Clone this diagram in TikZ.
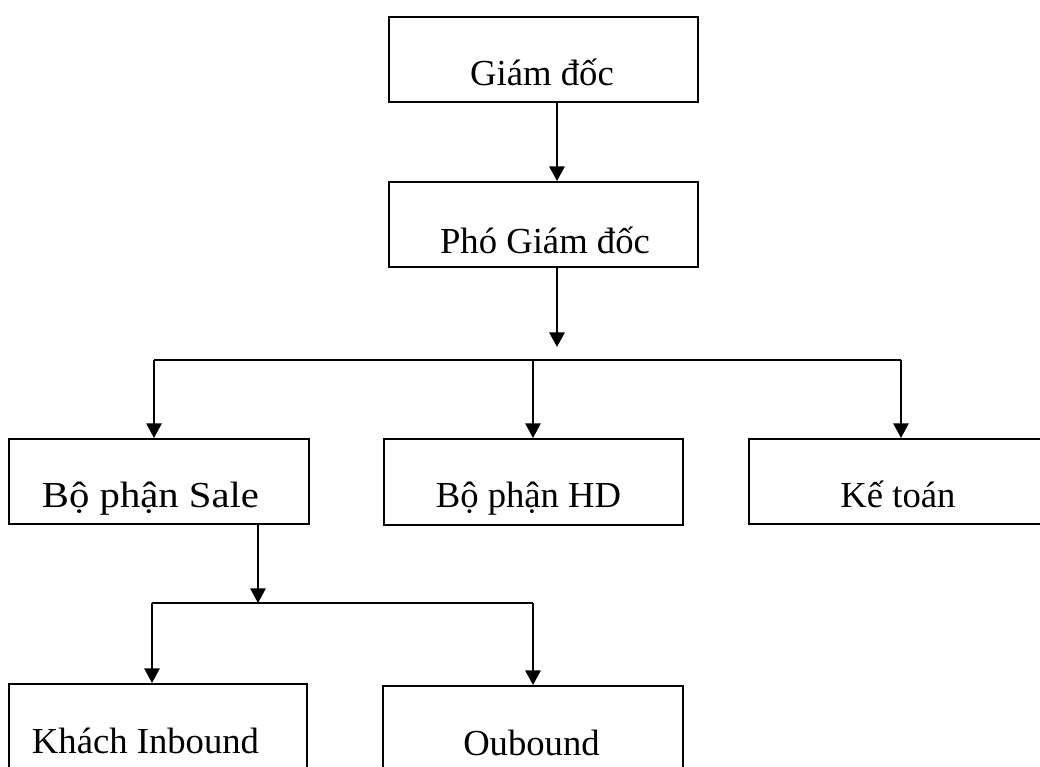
\documentclass[tikz,border=0pt]{standalone}
\usepackage{fontspec}
\setmainfont{Liberation Serif}
\newfontfamily\widefont{Liberation Serif}[FakeStretch=1.11]
\usetikzlibrary{arrows.meta}
\begin{document}
\begin{tikzpicture}[x=0.75pt,y=-0.75pt,
  box/.style={draw, rectangle, line width=1.5pt, inner sep=0pt},
  txt/.style={anchor=base, inner sep=0pt, font=\fontsize{27.5}{30}\selectfont},
  conn/.style={line width=1.5pt},
  arr/.style={line width=1.5pt, -{Triangle[length=11pt,width=11.5pt]}}]
\clip (0,0) rectangle (1040,767);
\fill[white] (0,0) rectangle (1040,767);
% boxes
\node[box, minimum width={309*0.75pt}, minimum height={85*0.75pt}] (gd)   at (543.5,59.5) {};
\node[box, minimum width={309*0.75pt}, minimum height={85*0.75pt}] (pgd)  at (543.5,224.5) {};
\node[box, minimum width={300*0.75pt}, minimum height={85*0.75pt}] (sale) at (159,481.5) {};
\node[box, minimum width={299*0.75pt}, minimum height={86*0.75pt}] (hd)   at (533.5,482) {};
\node[box, minimum width={320*0.75pt}, minimum height={85*0.75pt}] (kt)   at (909,481.5) {};
\node[box, minimum width={298*0.75pt}, minimum height={120*0.75pt}] (kh)  at (158,744) {};
\node[box, minimum width={300*0.75pt}, minimum height={120*0.75pt}] (ob)  at (533,746) {};
% texts
\node[txt] (tgd)   at (542,86)  {Giám đốc};
\node[txt] (tpgd)  at (545,253) {Phó Giám đốc};
\node[txt, font=\widefont\fontsize{27.5}{30}\selectfont] (tsale) at (150.5,507) {Bộ phận Sale};
\node[txt] (thd)   at (528.5,507) {Bộ phận HD};
\node[txt] (tkt)   at (898,507) {Kế toán};
\node[txt] (tkh)   at (145.5,753) {Khách Inbound};
\node[txt] (tob)   at (531.5,755) {Oubound};
% connector coordinates
\coordinate (c1) at (557,0);
\coordinate (j1) at (557,347);
\coordinate (hl) at (154,360);
\coordinate (hm) at (533,360);
\coordinate (hr) at (901,360);
\coordinate (c2) at (258,0);
\coordinate (j2) at (258,603);
\coordinate (bl) at (152,603);
\coordinate (br) at (533,603);
% connectors
\draw[arr] (gd.south -| c1) -- (pgd.north -| c1);
\draw[arr] (pgd.south -| c1) -- (j1);
\draw[conn] (hl) -- (hr);
\draw[arr] (hl) -- (sale.north -| hl);
\draw[arr] (hm) -- (hd.north -| hm);
\draw[arr] (hr) -- (kt.north -| hr);
\draw[arr] (sale.south -| c2) -- (j2);
\draw[conn] (bl) -- (br);
\draw[arr] (bl) -- (kh.north -| bl);
\draw[arr] (br) -- (ob.north -| br);
\end{tikzpicture}
\end{document}
